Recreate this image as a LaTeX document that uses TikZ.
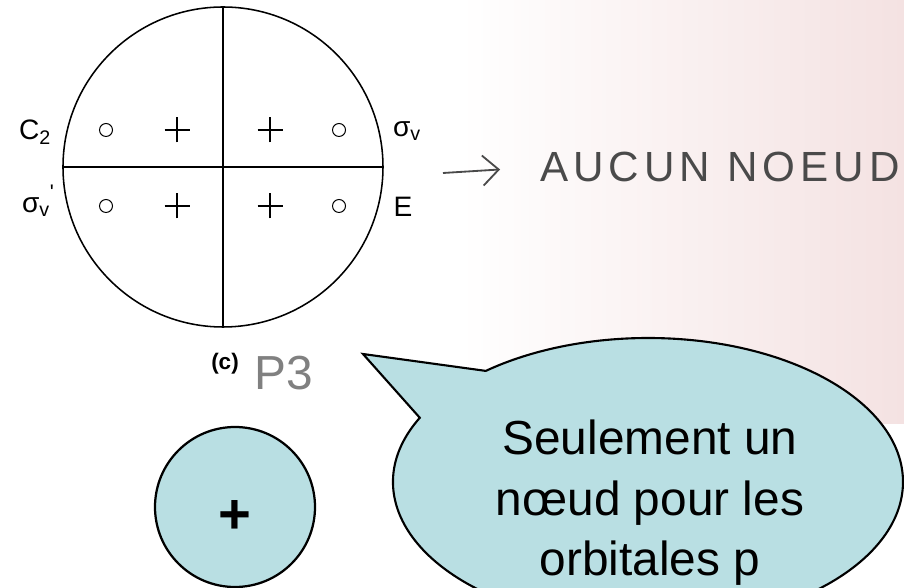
\documentclass[tikz,border=0pt]{standalone}
\usepackage{fontspec}
\setmainfont{Liberation Sans}
\usepackage{tkz-euclide}
\usetikzlibrary{shapes.callouts,arrows.meta}
\definecolor{bleubulle}{HTML}{B9DFE3}
\definecolor{papier}{HTML}{F4E2E2}
\definecolor{crayon}{HTML}{4A4A4A}
\tikzset{
	etiq/.style={inner sep=0pt,font=\fontsize{20}{22}\selectfont},
	rond/.style={line width=.7pt},
	croix/.style={line width=.8pt},
}

\begin{document}
\begin{tikzpicture}[scale=2.5]
	\useasboundingbox (0,0) rectangle (9.04,-5.88);
	% fond du scan
	\fill[white] (0,0) rectangle (9.04,-5.88);
	\shade[left color=white,right color=papier] (4.6,0) rectangle (9.04,-4.23);
		\tkzDefPoints{2.23/-1.67/O,3.83/-1.67/A,2.23/-0.07/N,2.23/-3.27/S,0.63/-1.67/W}
	%	\tkzDrawPoints[color=black,size=2pt](O,A,N,S,W)
		\tkzDrawCircle[color=black,line width=1.1pt](O,A)
		\tkzDrawSegments[color=black,line width=1.1pt](N,S W,A)
	\foreach \y in {-1.30,-2.06}{%
		\foreach \x in {1.06,3.39}
			\draw[rond] (\x,\y) circle (.065);
		\foreach \x in {1.77,2.70}
			\draw[croix] (\x-.125,\y) -- (\x+.125,\y) (\x,\y-.125) -- (\x,\y+.125);
	}
	\node[etiq] (C2) at (0.35,-1.32) {C\textsubscript{2}};
	\node[etiq] (sv) at (4.07,-1.31) {σ\textsubscript{v}};
	\node[etiq] (svp) at (0.38,-2.01)
		{σ\textsubscript{v}\raisebox{.45em}{\fontsize{15}{15}\selectfont\textquotesingle}};
	\node[etiq] (E) at (4.03,-2.07) {E};
	% annotations au crayon
	\node[anchor=west,inner sep=0pt,text=crayon,
		font=\fontsize{30}{32}\selectfont\addfontfeature{LetterSpace=12}] (aucun) at (5.40,-1.67) {AUCUN NOEUD};
	\coordinate (fl) at (4.43,-1.73);
	\draw[crayon,line width=1.3pt,shorten >=1cm,-{Straight Barb[length=.4cm,width=.75cm]}] (fl) -- (aucun.west);
	\node[inner sep=0pt,font=\fontsize{16}{18}\selectfont\bfseries] (c) at (2.25,-3.64) {(c)};
	\node[inner sep=0pt,text=gray,font=\fontsize{34}{36}\selectfont] (p3) at (2.84,-3.73) {P3};
	% bulle
	\node[circle,draw,fill=bleubulle,line width=1.6pt,minimum size=4cm,inner sep=0pt,text height=38pt,text depth=0pt,
		font=\fontsize{40}{40}\selectfont\bfseries] (lobe) at (2.35,-5.07) {+};
	\node[ellipse callout,draw,fill=bleubulle,line width=1.5pt,minimum width=12.75cm,minimum height=7.2cm,
		callout absolute pointer={(3.63,-3.54)},callout pointer arc=24] (bulle) at (6.48,-4.82) {};
	\node[align=center,inner sep=0pt,font=\fontsize{34}{43}\selectfont] (texte) at (6.50,-5.03)
		{Seulement un\\nœud pour les\\orbitales p};
\end{tikzpicture}
\end{document}
